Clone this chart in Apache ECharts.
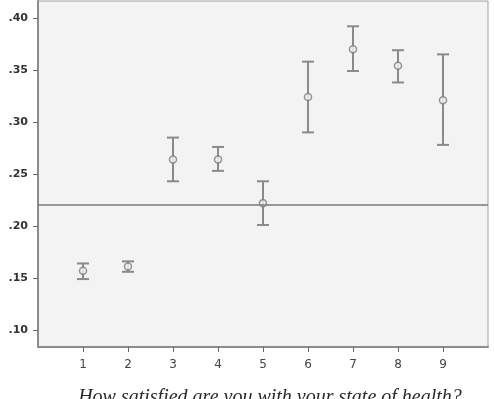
<!DOCTYPE html>
<html>
<head>
<meta charset="utf-8">
<script src="https://cdn.jsdelivr.net/npm/echarts@6/dist/echarts.min.js"></script>
<style>
html,body{margin:0;padding:0;background:#fff;}
#main{width:494px;height:399px;}
</style>
</head>
<body>
<div id="main"></div>
<script>
var categories = [1, 2, 3, 4, 5, 6, 7, 8, 9];
var means = [0.157, 0.161, 0.264, 0.264, 0.222, 0.324, 0.370, 0.354, 0.321];
var lower = [0.149, 0.156, 0.243, 0.253, 0.201, 0.290, 0.349, 0.338, 0.278];
var upper = [0.164, 0.166, 0.285, 0.276, 0.243, 0.358, 0.392, 0.369, 0.365];
var refValue = 0.2218;
var yTicks = [0.10, 0.15, 0.20, 0.25, 0.30, 0.35, 0.40];
var xTitle = 'How satisfied are you with your state of health?';

var chart = echarts.init(document.getElementById('main'), null, {renderer: 'canvas'});

var barData = categories.map(function (c, i) { return [c, lower[i], upper[i]]; });
var meanData = categories.map(function (c, i) { return [c, means[i]]; });

var option = {
  animation: false,
  backgroundColor: '#ffffff',
  grid: {
    left: 38, top: 1, right: 6, bottom: 52,
    outerBoundsMode: 'none', containLabel: false,
    show: true, backgroundColor: '#f3f3f3', borderColor: '#a0a0a0', borderWidth: 1
  },
  xAxis: {
    type: 'value', min: 0, max: 10,
    name: xTitle, nameLocation: 'middle', nameGap: 41,
    nameTextStyle: {fontFamily: 'Liberation Serif', fontStyle: 'italic', fontSize: 20, color: '#2a2a2a', padding: [0, 0, 0, 14]},
    splitLine: {show: false},
    axisLine: {show: true, onZero: false, lineStyle: {color: '#8c8c8c', width: 2}},
    axisTick: {show: true, customValues: categories, length: 5, lineStyle: {color: '#666', width: 1}},
    axisLabel: {customValues: categories, color: '#444', fontFamily: 'DejaVu Sans', fontSize: 12, margin: 12}
  },
  yAxis: {
    type: 'value', min: 0.0837, max: 0.4163,
    splitLine: {show: false},
    axisLine: {show: true, onZero: false, lineStyle: {color: '#8c8c8c', width: 2}},
    axisTick: {show: true, customValues: yTicks, length: 5, lineStyle: {color: '#666', width: 1}},
    axisLabel: {
      customValues: yTicks, color: '#333', fontFamily: 'DejaVu Sans', fontSize: 11, fontWeight: 'bold', margin: 10,
      formatter: function (v) { return v.toFixed(2).replace(/^0/, ''); }
    }
  },
  series: [
    {
      type: 'custom',
      data: barData,
      z: 3,
      renderItem: function (params, api) {
        var x = api.value(0);
        var lo = api.coord([x, api.value(1)]);
        var hi = api.coord([x, api.value(2)]);
        var hw = 6;
        var st = {stroke: '#8a8a8a', lineWidth: 2, fill: null};
        return {
          type: 'group',
          children: [
            {type: 'line', shape: {x1: lo[0], y1: lo[1], x2: hi[0], y2: hi[1]}, style: st},
            {type: 'line', shape: {x1: hi[0] - hw, y1: hi[1], x2: hi[0] + hw, y2: hi[1]}, style: st},
            {type: 'line', shape: {x1: lo[0] - hw, y1: lo[1], x2: lo[0] + hw, y2: lo[1]}, style: st}
          ]
        };
      }
    },
    {
      type: 'scatter',
      data: meanData,
      symbol: 'circle',
      symbolSize: 7,
      z: 4,
      itemStyle: {color: '#f3f3f3', borderColor: '#7a7a7a', borderWidth: 1.5},
      markLine: {
        silent: true,
        symbol: 'none',
        label: {show: false},
        lineStyle: {color: '#7a7a7a', width: 1.5, type: 'solid'},
        data: [{yAxis: refValue}]
      }
    }
  ]
};
chart.setOption(option);
</script>
</body>
</html>
